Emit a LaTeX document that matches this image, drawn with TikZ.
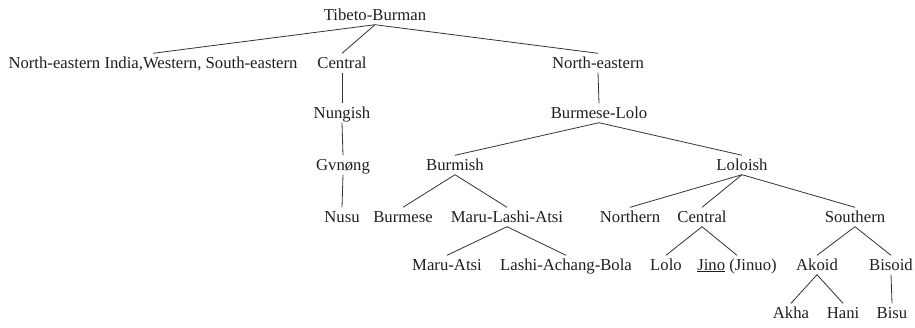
\documentclass[tikz,border=0pt]{standalone}
\usepackage{fontspec}
\setmainfont{Liberation Serif}
\begin{document}
\begin{tikzpicture}[x=1pt,y=-1pt,
  lang/.style={inner xsep=0pt, inner ysep=1.5pt, text height=13pt, text depth=3pt,
    font=\fontsize{16.7}{18}\selectfont, text=black!88},
  link/.style={draw=black!80, line width=0.8pt}]
\useasboundingbox (0,0) rectangle (915,327);
% row 1
\node[lang] (tb) at (375,15) {Tibeto-Burman};
% row 2
\node[lang] (nei) at (153,63) {North-eastern India,Western, South-eastern};
\node[lang] (cen) at (342,63) {Central};
\node[lang] (ne) at (598,63) {North-eastern};
% row 3
\node[lang] (nun) at (342,113) {Nungish};
\node[lang] (bl) at (599,113) {Burmese-Lolo};
% row 4
\node[lang] (gvn) at (343,165) {Gvnøng};
\node[lang] (bur) at (455,165) {Burmish};
\node[lang] (lol) at (742,165) {Loloish};
% row 5
\node[lang] (nus) at (342,217) {Nusu};
\node[lang] (bme) at (403,217) {Burmese};
\node[lang] (mla) at (507,217) {Maru-Lashi-Atsi};
\node[lang] (nor) at (630,217) {Northern};
\node[lang] (lcen) at (702,217) {Central};
\node[lang] (sou) at (855,217) {Southern};
% row 6
\node[lang] (ma) at (447,265) {Maru-Atsi};
\node[lang] (lab) at (566,265) {Lashi-Achang-Bola};
\node[lang] (lolo) at (666,265) {Lolo};
\node[lang] (jino) at (737,265) {\underline{Jino} (Jinuo)};
\node[lang] (ako) at (817,265) {Akoid};
\node[lang] (bis) at (891,265) {Bisoid};
% row 7
\node[lang] (akh) at (791,313) {Akha};
\node[lang] (han) at (843,313) {Hani};
\node[lang] (bsu) at (892,313) {Bisu};
% links
\foreach \p/\c in {tb/nei, tb/cen, tb/ne, cen/nun, nun/gvn, gvn/nus, ne/bl,
  bl/bur, bl/lol, bur/bme, bur/mla, mla/ma, mla/lab, lol/nor, lol/lcen, lol/sou,
  lcen/lolo, lcen/jino, sou/ako, sou/bis, ako/akh, ako/han, bis/bsu}
  \draw[link] (\p.south) -- (\c.north);
\end{tikzpicture}
\end{document}
